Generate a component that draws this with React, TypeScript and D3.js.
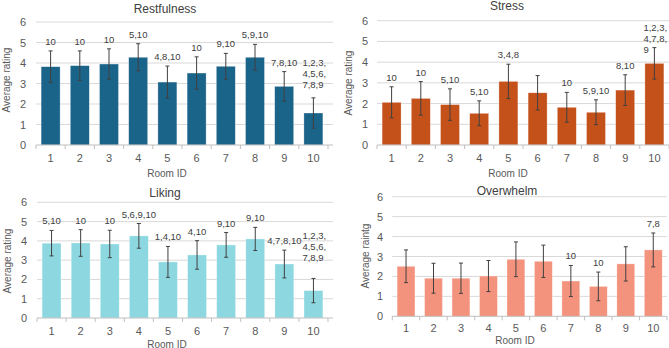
import React from 'react';
import * as d3 from 'd3';

// Room IDs shared by all four panels
const rooms = ['1', '2', '3', '4', '5', '6', '7', '8', '9', '10'];
const yTicks = [0, 1, 2, 3, 4, 5, 6];

// Mean ratings and error-bar half widths, one pair per measure
const restfulnessMeans = [3.82, 3.87, 3.95, 4.28, 3.07, 3.51, 3.84, 4.28, 2.86, 1.56];
const restfulnessErrors = [0.77, 0.72, 0.74, 0.66, 0.78, 0.79, 0.63, 0.63, 0.72, 0.74];
const restfulnessLabels = ['10', '10', '10', '5,10', '4,8,10', '10', '9,10', '5,9,10', '7,8,10', '1,2,3,\n4,5,6,\n7,8,9'];

const stressMeans = [2.06, 2.25, 1.95, 1.53, 3.07, 2.52, 1.82, 1.58, 2.65, 3.94];
const stressErrors = [0.75, 0.81, 0.76, 0.6, 0.83, 0.83, 0.72, 0.6, 0.74, 0.76];
const stressLabels = ['10', '10', '5,10', '5,10', '3,4,8', '', '10', '5,9,10', '8,10', '1,2,3,\n4,7,8,\n9'];

const likingMeans = [3.88, 3.89, 3.84, 4.26, 2.91, 3.27, 3.79, 4.1, 2.8, 1.42];
const likingErrors = [0.66, 0.69, 0.71, 0.64, 0.8, 0.74, 0.64, 0.6, 0.72, 0.63];
const likingLabels = ['5,10', '10', '10', '5,6,9,10', '1,4,10', '4,10', '9,10', '9,10', '4,7,8,10', '1,2,3,\n4,5,6,\n7,8,9'];

const overwhelmMeans = [2.51, 1.91, 1.91, 2.02, 2.86, 2.76, 1.77, 1.5, 2.63, 3.33];
const overwhelmErrors = [0.82, 0.75, 0.76, 0.78, 0.87, 0.81, 0.78, 0.72, 0.86, 0.85];
const overwhelmLabels = ['', '', '', '', '', '', '10', '10', '', '7,8'];

const FONT = '"Liberation Sans", Arial, sans-serif';

interface Layout {
  left: number;
  right: number;
  gridRight: number;
  top: number;
  bottom: number;
  titleX: number;
  titleY: number;
  yLabelX: number;
  yLabelY: number;
  xLabelX: number;
  xLabelY: number;
  xTickGap: number;
  tickEnd: number;
  multiShift: number; // vertical nudge for the stacked three-line label
}

interface PanelProps {
  title: string;
  yTitle: string;
  means: number[];
  errors: number[];
  labels: string[];
  color: string;
  layout: Layout;
}

const Panel: React.FC<PanelProps> = ({ title, yTitle, means, errors, labels, color, layout: L }) => {
  const x = d3.scaleBand().domain(rooms).range([L.left, L.right]).paddingInner(0.35).paddingOuter(0.175);
  const step = x.step();
  const y = d3.scaleLinear().domain([0, 6]).range([L.bottom, L.top]);
  const bw = x.bandwidth();

  return (
    <g>
      {/* gridlines */}
      {yTicks.filter(t => t > 0).map(t => (
        <line key={t} x1={L.left} x2={L.gridRight} y1={y(t)} y2={y(t)} stroke="#d9d9d9" strokeWidth={1} />
      ))}
      {yTicks.map(t => (
        <text key={t} x={L.tickEnd} y={y(t) + 4} textAnchor="end" fontSize={11} fill="#595959" fontFamily={FONT}>{t}</text>
      ))}

      {/* bars */}
      {means.map((m, i) => (
        <rect key={i} x={x(rooms[i])} y={y(m)} width={bw} height={y(0) - y(m)}
          fill={color} stroke="#ffffff" strokeOpacity={0.5} strokeWidth={0.6} />
      ))}

      {/* category axis */}
      <line x1={L.left} x2={L.gridRight} y1={y(0)} y2={y(0)} stroke="#bfbfbf" strokeWidth={1} />
      {d3.range(rooms.length + 1).map(k => {
        const bx = L.left + k * step;
        return <line key={k} x1={bx} x2={bx} y1={y(0)} y2={y(0) + 4} stroke="#bfbfbf" strokeWidth={1} />;
      })}
      {rooms.map(r => (
        <text key={r} x={(x(r) || 0) + bw / 2} y={L.bottom + L.xTickGap} textAnchor="middle" fontSize={11} fill="#595959" fontFamily={FONT}>{r}</text>
      ))}

      {/* error bars */}
      {means.map((m, i) => {
        const cx = (x(rooms[i]) || 0) + bw / 2;
        const hi = y(m + errors[i]);
        const lo = y(m - errors[i]);
        return (
          <g key={i} stroke="#404040" strokeWidth={1}>
            <line x1={cx} x2={cx} y1={hi} y2={lo} />
            <line x1={cx - 2} x2={cx + 2} y1={hi} y2={hi} />
            <line x1={cx - 2} x2={cx + 2} y1={lo} y2={lo} />
          </g>
        );
      })}

      {/* significance labels above the error bars */}
      {labels.map((lab, i) => {
        if (!lab) return null;
        const lines = lab.split('\n');
        const cx = (x(rooms[i]) || 0) + bw / 2;
        const top = y(means[i] + errors[i]);
        const lh = 11;
        const multi = lines.length > 1;
        const lastBase = top - 6 + (multi ? L.multiShift - 4 : 0);
        return (
          <text key={i} fontSize={9.5} fill="#404040" fontFamily={FONT}
            textAnchor={multi ? 'start' : 'middle'}>
            {lines.map((ln, j) => (
              <tspan key={j} x={multi ? cx - 11 : cx} y={lastBase - (lines.length - 1 - j) * lh}>{ln}</tspan>
            ))}
          </text>
        );
      })}

      <text x={L.titleX} y={L.titleY} textAnchor="middle" fontSize={12} fill="#404040" fontFamily={FONT}>{title}</text>
      <text transform={`translate(${L.yLabelX},${L.yLabelY}) rotate(-90)`} textAnchor="middle" fontSize={10} fill="#595959" fontFamily={FONT}>{yTitle}</text>
      <text x={L.xLabelX} y={L.xLabelY} textAnchor="middle" fontSize={10} fill="#595959" fontFamily={FONT}>Room ID</text>
    </g>
  );
};

const App: React.FC = () => {
  const W = 669;
  const H = 348;
  return (
    <svg width={W} height={H} viewBox={`0 0 ${W} ${H}`} style={{ position: 'absolute', left: 0, top: 0, background: '#fff' }}>
      <Panel title="Restfulness" yTitle="Average rating" means={restfulnessMeans} errors={restfulnessErrors}
        labels={restfulnessLabels} color="#1a6389"
        layout={{ left: 36, right: 328, gridRight: 333, top: 22, bottom: 145, titleX: 165, titleY: 12.5, yLabelX: 10, yLabelY: 80, xLabelX: 167, xLabelY: 177, xTickGap: 17, tickEnd: 26, multiShift: 0 }} />
      <Panel title="Stress" yTitle="Average rating" means={stressMeans} errors={stressErrors}
        labels={stressLabels} color="#c4501a"
        layout={{ left: 377, right: 669, gridRight: 669, top: 20.7, bottom: 145, titleX: 507, titleY: 10, yLabelX: 352, yLabelY: 83, xLabelX: 508, xLabelY: 177, xTickGap: 17, tickEnd: 368, multiShift: 15 }} />
      <Panel title="Liking" yTitle="Average rating" means={likingMeans} errors={likingErrors}
        labels={likingLabels} color="#8dd8e0"
        layout={{ left: 37, right: 328, gridRight: 333, top: 202.3, bottom: 318, titleX: 165, titleY: 196.5, yLabelX: 11, yLabelY: 261, xLabelX: 167, xLabelY: 347.5, xTickGap: 16.5, tickEnd: 27, multiShift: -7 }} />
      <Panel title="Overwhelm" yTitle="Average raintg" means={overwhelmMeans} errors={overwhelmErrors}
        labels={overwhelmLabels} color="#f4937d"
        layout={{ left: 392.3, right: 667, gridRight: 667, top: 196.7, bottom: 316.3, titleX: 507, titleY: 195, yLabelX: 369, yLabelY: 256, xLabelX: 515, xLabelY: 343.5, xTickGap: 15.5, tickEnd: 383, multiShift: 0 }} />
    </svg>
  );
};

export default App;
